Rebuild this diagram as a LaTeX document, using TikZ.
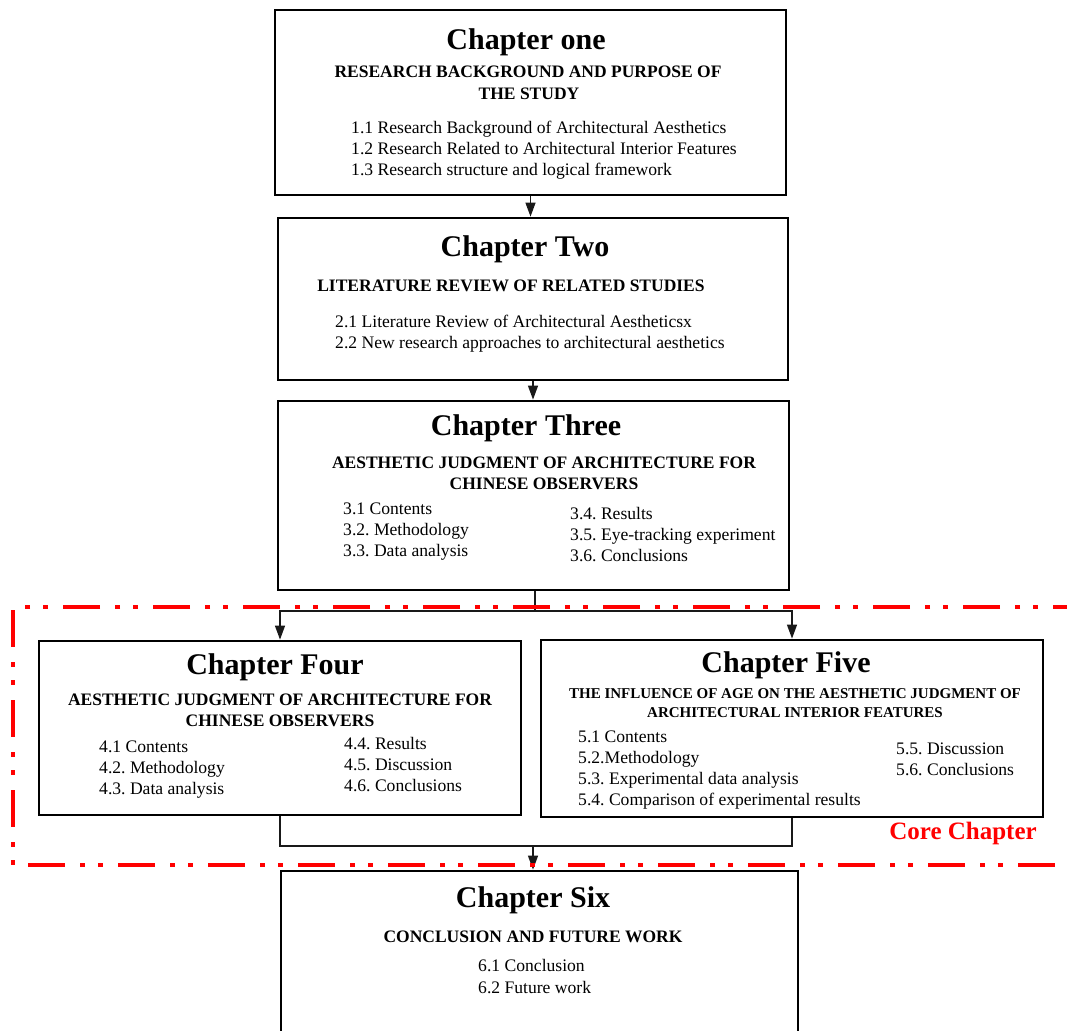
\documentclass[tikz,border=0pt]{standalone}
\usepackage{fontspec}
\setmainfont{Liberation Serif}
\usetikzlibrary{arrows.meta}
\frenchspacing

\begin{document}
\begin{tikzpicture}[x=1pt,y=-1pt,
		chbox/.style={draw, line width=2.8pt, inner sep=0pt},
		title/.style={anchor=base, inner sep=0pt, font=\bfseries\fontsize{30}{36}\selectfont},
		subtitle/.style={anchor=base, inner sep=0pt, font=\bfseries\fontsize{17.5}{21}\selectfont},
		item/.style={anchor=base west, inner sep=0pt, font=\fontsize{17.6}{21}\selectfont},
		link/.style={draw=black!90, line width=1.3pt},
		arr/.style={link, -{Triangle[length=14pt,width=10pt]}},
		core/.style={draw=red, line width=4.5pt, dash pattern=on 37pt off 15pt on 5pt off 13pt on 5pt off 15pt}]
	\useasboundingbox (0,0) rectangle (1067,1030);
	\clip (0,0) rectangle (1067,1030);
	
	% Boxes
	\node[chbox, minimum width=511pt, minimum height=185pt] (ch1) at (530.5,102.5) {};
	\node[chbox, minimum width=510pt, minimum height=162pt] (ch2) at (533,299) {};
	\node[chbox, minimum width=511pt, minimum height=189pt] (ch3) at (533.5,495.5) {};
	\node[chbox, minimum width=482pt, minimum height=174pt] (ch4) at (280,728) {};
	\node[chbox, minimum width=502pt, minimum height=177pt] (ch5) at (792,728.5) {};
	\node[chbox, minimum width=517pt, minimum height=189pt] (ch6) at (539.5,965.5) {};
	
	% Chapter one
	\node[title] (t1) at (526,50) {Chapter one};
	\node[subtitle] (s1a) at (528,78) {RESEARCH BACKGROUND AND PURPOSE OF};
	\node[subtitle] (s1b) at (529,99.5) {THE STUDY};
	\foreach \txt [count=\i from 0] in {1.1 Research Background of Architectural Aesthetics,
		1.2 Research Related to Architectural Interior Features,
		1.3 Research structure and logical framework}{
		\node[item] (i1-\i) at (351,{133+21*\i}) {\txt};
	}
	
	% Chapter two
	\node[title] (t2) at (525,256) {Chapter Two};
	\node[subtitle] (s2a) at (511,291) {LITERATURE REVIEW OF RELATED STUDIES};
	\foreach \txt [count=\i from 0] in {2.1 Literature Review of Architectural Aestheticsx,
		2.2 New research approaches to architectural aesthetics}{
		\node[item] (i2-\i) at (335,{327+21*\i}) {\txt};
	}
	
	% Chapter three
	\node[title] (t3) at (526,435) {Chapter Three};
	\node[subtitle] (s3a) at (544,468) {AESTHETIC JUDGMENT OF ARCHITECTURE FOR};
	\node[subtitle] (s3b) at (544,489) {CHINESE OBSERVERS};
	\foreach \txt [count=\i from 0] in {3.1 Contents, 3.2. Methodology, 3.3. Data analysis}{
		\node[item] (i3l-\i) at (343,{514+21*\i}) {\txt};
	}
	\foreach \txt [count=\i from 0] in {3.4. Results, 3.5. Eye-tracking experiment, 3.6. Conclusions}{
		\node[item] (i3r-\i) at (570,{519+21*\i}) {\txt};
	}
	
	% Chapter four
	\node[title] (t4) at (275,674) {Chapter Four};
	\node[subtitle] (s4a) at (280,705) {AESTHETIC JUDGMENT OF ARCHITECTURE FOR};
	\node[subtitle] (s4b) at (280,726) {CHINESE OBSERVERS};
	\foreach \txt [count=\i from 0] in {4.1 Contents, 4.2. Methodology, 4.3. Data analysis}{
		\node[item] (i4l-\i) at (99,{752+21*\i}) {\txt};
	}
	\foreach \txt [count=\i from 0] in {4.4. Results, 4.5. Discussion, 4.6. Conclusions}{
		\node[item] (i4r-\i) at (344,{749+21*\i}) {\txt};
	}
	
	% Chapter five
	\node[title] (t5) at (786,672) {Chapter Five};
	\node[subtitle, font=\bfseries\fontsize{15}{18}\selectfont] (s5a) at (795,698) {THE INFLUENCE OF AGE ON THE AESTHETIC JUDGMENT OF};
	\node[subtitle, font=\bfseries\fontsize{15}{18}\selectfont] (s5b) at (795,717.5) {ARCHITECTURAL INTERIOR FEATURES};
	\foreach \txt [count=\i from 0] in {5.1 Contents, 5.2.Methodology, 5.3. Experimental data analysis,
		5.4. Comparison of experimental results}{
		\node[item] (i5l-\i) at (578,{742+21*\i}) {\txt};
	}
	\foreach \txt [count=\i from 0] in {5.5. Discussion, 5.6. Conclusions}{
		\node[item] (i5r-\i) at (896,{754+21*\i}) {\txt};
	}
	
	% Chapter six
	\node[title] (t6) at (533,907) {Chapter Six};
	\node[subtitle] (s6a) at (533,942) {CONCLUSION AND FUTURE WORK};
	\foreach \txt [count=\i from 0] in {6.1 Conclusion, 6.2 Future work}{
		\node[item] (i6-\i) at (478,{971+22*\i}) {\txt};
	}
	
	% Connectors
	\coordinate (split) at (535,611);
	\coordinate (join) at (533,846);
	\draw[arr] (ch1.south) -- (ch1.south |- ch2.north);
	\draw[arr] (ch2.south) -- (ch2.south |- ch3.north);
	\draw[link] (ch3.south -| split) -- (split);
	\draw[arr] (split) -| (ch4.north);
	\draw[arr] (split) -| (ch5.north);
	\draw[link] (ch4.south) |- (join);
	\draw[link] (ch5.south) |- (join);
	\draw[arr] (join) -- (join |- ch6.north);
	
	% Core chapter frame
	\draw[core] (1090,607) -- (13,607) -- (13,865) -- (1090,865);
	\node[anchor=base, inner sep=0pt, text=red, font=\bfseries\fontsize{25}{30}\selectfont] (corelbl) at (963,839) {Core Chapter};
\end{tikzpicture}
\end{document}
